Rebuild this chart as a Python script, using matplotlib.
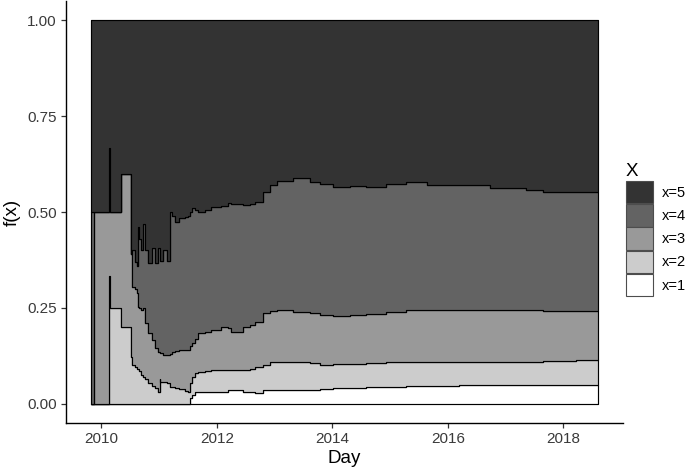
import numpy as np
import matplotlib
matplotlib.use("Agg")
import matplotlib.pyplot as plt
from matplotlib.patches import Patch

plt.rcParams['font.family'] = ['Liberation Sans', 'DejaVu Sans']

# day as decimal year, cumulative share up to each category (step after the day)
day = [2009.83, 2009.875, 2010.14, 2010.146, 2010.35, 2010.51, 2010.54, 2010.58,
       2010.62, 2010.64, 2010.66, 2010.69, 2010.72, 2010.75, 2010.81, 2010.87,
       2010.93, 2010.99, 2011.01, 2011.02, 2011.07, 2011.13, 2011.19, 2011.23,
       2011.27, 2011.35, 2011.45, 2011.50, 2011.53, 2011.57, 2011.62, 2011.68,
       2011.79, 2011.90, 2012.08, 2012.20, 2012.25, 2012.46, 2012.57, 2012.66,
       2012.80, 2012.92, 2013.05, 2013.32, 2013.61, 2013.78, 2014.01, 2014.30,
       2014.59, 2014.93, 2015.28, 2015.63, 2016.20, 2016.72, 2017.35, 2017.64,
       2018.22, 2018.59]
upto_x1 = [0, 0, 0, 0, 0, 0, 0, 0,
           0, 0, 0, 0, 0, 0, 0, 0,
           0, 0, 0, 0, 0, 0, 0, 0,
           0, 0, 0, 0, 0.015, 0.023, 0.032, 0.032,
           0.031, 0.030, 0.030, 0.035, 0.036, 0.032, 0.030, 0.028,
           0.036, 0.036, 0.036, 0.036, 0.037, 0.038, 0.041, 0.042,
           0.043, 0.045, 0.047, 0.047, 0.048, 0.048, 0.0495, 0.049,
           0.049, 0.049]
upto_x2 = [0, 0, 0.333, 0.25, 0.20, 0.123, 0.10, 0.095,
           0.09, 0.09, 0.085, 0.075, 0.071, 0.065, 0.054, 0.047,
           0.041, 0.032, 0.064, 0.058, 0.058, 0.055, 0.045, 0.044,
           0.042, 0.038, 0.034, 0.032, 0.055, 0.070, 0.080, 0.082,
           0.085, 0.087, 0.088, 0.088, 0.087, 0.088, 0.090, 0.095,
           0.100, 0.110, 0.110, 0.109, 0.106, 0.102, 0.103, 0.104,
           0.106, 0.108, 0.110, 0.110, 0.109, 0.109, 0.110, 0.111,
           0.113, 0.113]
upto_x3 = [0, 0.50, 0.50, 0.50, 0.60, 0.39, 0.305, 0.30,
           0.29, 0.253, 0.25, 0.245, 0.25, 0.21, 0.184, 0.167,
           0.145, 0.136, 0.134, 0.132, 0.128, 0.128, 0.13, 0.135,
           0.138, 0.14, 0.141, 0.141, 0.15, 0.158, 0.17, 0.184,
           0.186, 0.193, 0.201, 0.197, 0.186, 0.200, 0.206, 0.214,
           0.236, 0.242, 0.244, 0.240, 0.236, 0.232, 0.229, 0.231,
           0.233, 0.240, 0.245, 0.245, 0.244, 0.244, 0.244, 0.243,
           0.242, 0.242]
upto_x4 = [0.50, 0.50, 0.667, 0.50, 0.60, 0.39, 0.40, 0.37,
           0.36, 0.46, 0.43, 0.40, 0.47, 0.40, 0.367, 0.405,
           0.366, 0.405, 0.38, 0.371, 0.40, 0.371, 0.50, 0.49,
           0.475, 0.485, 0.488, 0.49, 0.50, 0.51, 0.505, 0.50,
           0.505, 0.514, 0.515, 0.523, 0.520, 0.519, 0.522, 0.527,
           0.553, 0.570, 0.580, 0.588, 0.579, 0.572, 0.566, 0.568,
           0.566, 0.573, 0.579, 0.570, 0.570, 0.562, 0.557, 0.553,
           0.551, 0.551]

categories = ["x=1", "x=2", "x=3", "x=4", "x=5"]
fills = ["#ffffff", "#cccccc", "#999999", "#636363", "#333333"]
year_ticks = [2010, 2012, 2014, 2016, 2018]
share_ticks = [0.0, 0.25, 0.5, 0.75, 1.0]

x = np.array(day)
layers = [np.zeros(len(x)), np.array(upto_x1), np.array(upto_x2),
          np.array(upto_x3), np.array(upto_x4), np.ones(len(x))]

fig = plt.figure(figsize=(6.85, 4.74), dpi=100)
ax = fig.add_axes([66 / 685, 1 - 423 / 474, (623 - 66) / 685, 422 / 474])

for i in range(5):
    ax.fill_between(x, layers[i], layers[i + 1], step='post',
                    facecolor=fills[i], edgecolor='black', linewidth=0.85)

ax.set_xlim(2009.39, 2019.03)
ax.set_ylim(-0.05, 1.05)
ax.set_xticks(year_ticks)
ax.set_xticklabels([str(t) for t in year_ticks])
ax.set_yticks(share_ticks)
ax.set_yticklabels([f"{t:.2f}" for t in share_ticks])

for s in ['top', 'right']:
    ax.spines[s].set_visible(False)
for s in ['left', 'bottom']:
    ax.spines[s].set_linewidth(1.0)
ax.tick_params(length=3.5, width=0.9, color='#333333', labelsize=11,
               labelcolor='#3a3a3a', pad=3)

ax.set_xlabel("Day", fontsize=13.5, labelpad=3)
ax.set_ylabel("f(x)", fontsize=13.5, labelpad=5)

handles = [Patch(facecolor=fills[i], edgecolor='#4d4d4d', linewidth=0.8,
                 label=categories[i]) for i in range(4, -1, -1)]
leg = fig.legend(handles=handles, title="X", loc='upper left',
                 bbox_to_anchor=(626 / 685, 1 - 163 / 474), frameon=False,
                 fontsize=10.5, title_fontsize=13.5, handlelength=1.85,
                 handleheight=2.0, labelspacing=0.05, handletextpad=0.6,
                 borderpad=0, borderaxespad=0)
leg._legend_box.align = "left"

fig.savefig("out.png", dpi=100)
